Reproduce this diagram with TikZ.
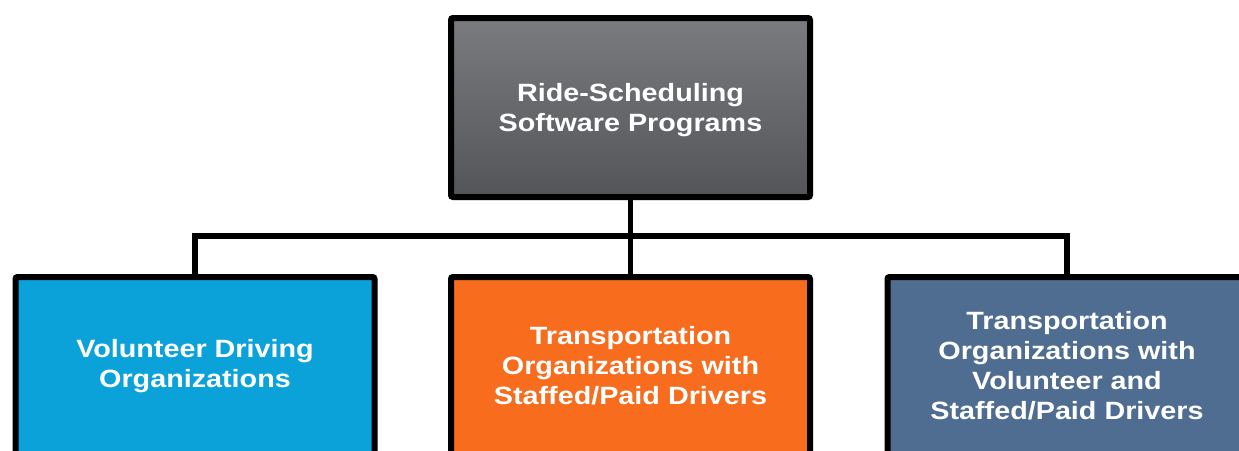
\documentclass[tikz,border=0pt]{standalone}
\usepackage{fontspec}
\setmainfont{Liberation Sans}[FakeStretch=1.15]
\usepackage{tikz}
\usetikzlibrary{positioning,shadows}

\definecolor{progtop}{RGB}{122,123,127}
\definecolor{progbot}{RGB}{84,85,89}
\definecolor{volblue}{RGB}{11,162,217}
\definecolor{paidorange}{RGB}{247,108,29}
\definecolor{bothslate}{RGB}{79,108,145}

\tikzset{
    orgbox/.style = {draw = black, line width = 6pt, rounded corners = 2pt,
        minimum width = 359pt, inner sep = 0pt,
        drop shadow = {opacity = 0.25, shadow xshift = 2pt, shadow yshift = -3pt}},
    orgtext/.style = {text = white, align = center, inner sep = 0pt,
        font = \bfseries\fontsize{25}{30}\selectfont},
    link/.style = {line width = 5.5pt}
}

\begin{document}
\begin{tikzpicture}[x = 1pt, y = -1pt]
            \useasboundingbox (0,0) rectangle (1239,450);

            % top box
            \node[orgbox, top color = progtop, bottom color = progbot, minimum height = 179pt] (prog) at (630.5,107.5) {};
            \node[orgtext] (progtext) at ([yshift = -3pt]prog.center) {Ride-Scheduling\\Software Programs};

            % lower boxes, running off the page
            \node[orgbox, fill = volblue, minimum height = 240pt, anchor = north] (vol) at (195,274) {};
            \node[orgbox, fill = paidorange, minimum height = 240pt, anchor = north] (paid) at (630.5,274) {};
            \node[orgbox, fill = bothslate, minimum height = 240pt, anchor = north] (both) at (1067,274) {};

            \node[orgtext] (voltext) at ([yshift = -92pt]vol.north) {Volunteer Driving\\Organizations};
            \node[orgtext] (paidtext) at ([yshift = -92pt]paid.north) {Transportation\\Organizations with\\Staffed/Paid Drivers};
            \node[orgtext] (bothtext) at ([yshift = -92pt]both.north) {Transportation\\Organizations with\\Volunteer and\\Staffed/Paid Drivers};

            % connectors
            \coordinate (hub) at (630.5,236);
            \draw[link] (prog.south) -- (hub);
            \draw[link] (hub) -- (paid.north);
            \draw[link] (vol.north) -- (vol.north |- hub) -- (both.north |- hub) -- (both.north);

\end{tikzpicture}
\end{document}
